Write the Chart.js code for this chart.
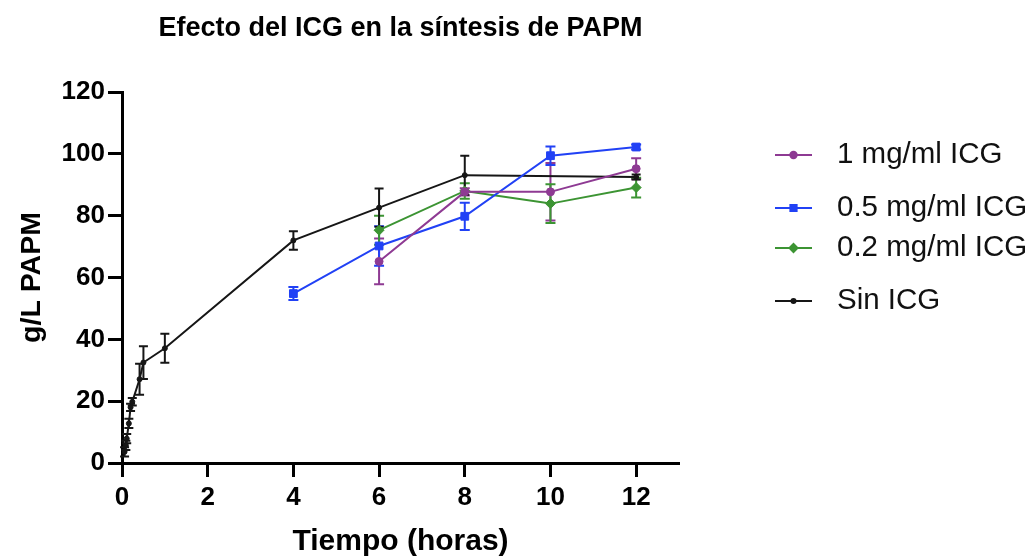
<!DOCTYPE html>
<html>
<head>
<meta charset="utf-8">
<script src="https://cdn.jsdelivr.net/npm/chart.js@4.4.1/dist/chart.umd.min.js"></script>
<style>
  html, body { margin: 0; padding: 0; background: #fff; }
  #wrap { width: 1031px; height: 560px; }
</style>
</head>
<body>
<div id="wrap"><canvas id="graficaICG" width="1031" height="560"></canvas></div>
<script>
// datos
const nombresSeries = ['1 mg/ml ICG', '0.5 mg/ml ICG', '0.2 mg/ml ICG', 'Sin ICG'];

const x1mg = [6, 8, 10, 12];
const y1mg = [65.2, 87.7, 87.7, 95.2];
const e1mg = [7.4, 1.2, 9.3, 3.4];

const x05mg = [4, 6, 8, 10, 12];
const y05mg = [54.8, 70.2, 79.8, 99.4, 102.2];
const e05mg = [2.1, 6.4, 4.4, 3.0, 0.8];

const x02mg = [6, 8, 10, 12];
const y02mg = [75.3, 88.0, 83.9, 89.1];
const e02mg = [4.7, 2.5, 6.3, 3.2];

const xSin = [0.06, 0.09, 0.11, 0.16, 0.2, 0.24, 0.41, 0.5, 1, 4, 6, 8, 12];
const ySin = [3.6, 5.7, 7.9, 12.8, 18.0, 19.8, 27.1, 32.5, 37.1, 72.0, 82.6, 93.1, 92.5];
const eSin = [1.5, 1.5, 1.5, 1.5, 1.2, 1.2, 5.0, 5.3, 4.7, 3.0, 6.2, 6.3, 0.8];

const ticksX = [0, 2, 4, 6, 8, 10, 12];
const ticksY = [0, 20, 40, 60, 80, 100, 120];

const fuente = '"Liberation Sans", Arial, Helvetica, sans-serif';

function puntos(xs, ys) {
  return xs.map((x, i) => ({ x: x, y: ys[i] }));
}

// barras de error dibujadas con las escalas del grafico
const barrasError = {
  id: 'barrasError',
  beforeDatasetsDraw(chart) {
    const ctx = chart.ctx;
    const sx = chart.scales.x, sy = chart.scales.y;
    chart.data.datasets.forEach((ds, i) => {
      if (!ds.errores) return;
      ctx.save();
      ctx.strokeStyle = ds.borderColor;
      ctx.lineWidth = 2;
      ds.data.forEach((p, j) => {
        const e = ds.errores[j];
        const px = sx.getPixelForValue(p.x);
        const top = sy.getPixelForValue(p.y + e);
        const bot = sy.getPixelForValue(p.y - e);
        const w = ds.capa;
        ctx.beginPath();
        ctx.moveTo(px, top); ctx.lineTo(px, bot);
        ctx.moveTo(px - w, top); ctx.lineTo(px + w, top);
        ctx.moveTo(px - w, bot); ctx.lineTo(px + w, bot);
        ctx.stroke();
      });
      ctx.restore();
    });
  }
};

// leyenda a la derecha, linea con marcador
const leyenda = {
  id: 'leyenda',
  afterDraw(chart) {
    const ctx = chart.ctx;
    const filas = [155, 208, 248, 301];
    chart.data.datasets.forEach((ds, i) => {
      const y = filas[i];
      ctx.save();
      ctx.strokeStyle = ds.borderColor;
      ctx.fillStyle = ds.backgroundColor;
      ctx.lineWidth = 2;
      ctx.beginPath();
      ctx.moveTo(775, y); ctx.lineTo(812, y);
      ctx.stroke();
      Chart.helpers.drawPoint(ctx, { pointStyle: ds.pointStyle, radius: ds.pointRadius * 0.8, rotation: 0, borderWidth: 1 }, 793.5, y);
      ctx.fillStyle = '#111';
      ctx.font = '29.5px ' + fuente;
      ctx.textBaseline = 'middle';
      ctx.textAlign = 'left';
      ctx.fillText(nombresSeries[i], 837, y);
      ctx.restore();
    });
  }
};

const ctxICG = document.getElementById('graficaICG').getContext('2d');

new Chart(ctxICG, {
  type: 'line',
  data: {
    datasets: [
      {
        label: nombresSeries[0], data: puntos(x1mg, y1mg), errores: e1mg, capa: 5,
        borderColor: '#8e3a93', backgroundColor: '#8e3a93',
        pointStyle: 'circle', pointRadius: 4
      },
      {
        label: nombresSeries[1], data: puntos(x05mg, y05mg), errores: e05mg, capa: 5,
        borderColor: '#2141f5', backgroundColor: '#2141f5',
        pointStyle: 'rect', pointRadius: 5.5
      },
      {
        label: nombresSeries[2], data: puntos(x02mg, y02mg), errores: e02mg, capa: 5,
        borderColor: '#3c9433', backgroundColor: '#3c9433',
        pointStyle: 'rectRot', pointRadius: 5
      },
      {
        label: nombresSeries[3], data: puntos(xSin, ySin), errores: eSin, capa: 4.5,
        borderColor: '#161616', backgroundColor: '#161616',
        pointStyle: 'circle', pointRadius: 2.5
      }
    ]
  },
  options: {
    responsive: false,
    animation: false,
    elements: {
      line: { borderWidth: 2, tension: 0 },
      point: { borderWidth: 1, hoverRadius: 4 }
    },
    layout: { padding: { left: 0, right: 352, top: 0, bottom: 0 } },
    plugins: {
      legend: { display: false },
      tooltip: { enabled: false },
      title: {
        display: true,
        text: 'Efecto del ICG en la síntesis de PAPM',
        fullSize: false,
        color: '#000',
        font: { family: fuente, size: 27, weight: 'bold' },
        padding: { top: 12, bottom: 47.6 }
      }
    },
    scales: {
      x: {
        type: 'linear', min: 0, max: 13,
        afterBuildTicks: s => { s.ticks = ticksX.map(v => ({ value: v })); },
        afterFit: s => { s.height = 97; },
        border: { display: true, color: '#000', width: 3 },
        grid: { drawOnChartArea: false, drawTicks: true, tickLength: 14, tickWidth: 3, tickColor: '#000' },
        ticks: { color: '#000', padding: 5, font: { family: fuente, size: 26, weight: 'bold' } },
        title: {
          display: true, text: 'Tiempo (horas)', color: '#000',
          font: { family: fuente, size: 30, weight: 'bold' },
          padding: { top: 0, bottom: 0 }
        }
      },
      y: {
        type: 'linear', min: 0, max: 120,
        afterBuildTicks: s => { s.ticks = ticksY.map(v => ({ value: v })); },
        afterFit: s => { s.width = 122; },
        border: { display: true, color: '#000', width: 3 },
        grid: { drawOnChartArea: false, drawTicks: true, tickLength: 14, tickWidth: 3, tickColor: '#000' },
        ticks: { color: '#000', padding: 3, font: { family: fuente, size: 26, weight: 'bold' } },
        title: {
          display: true, text: 'g/L PAPM', color: '#000',
          font: { family: fuente, size: 28.5, weight: 'bold' },
          padding: { top: 15, bottom: 0 }
        }
      }
    }
  },
  plugins: [barrasError, leyenda]
});
</script>
</body>
</html>
